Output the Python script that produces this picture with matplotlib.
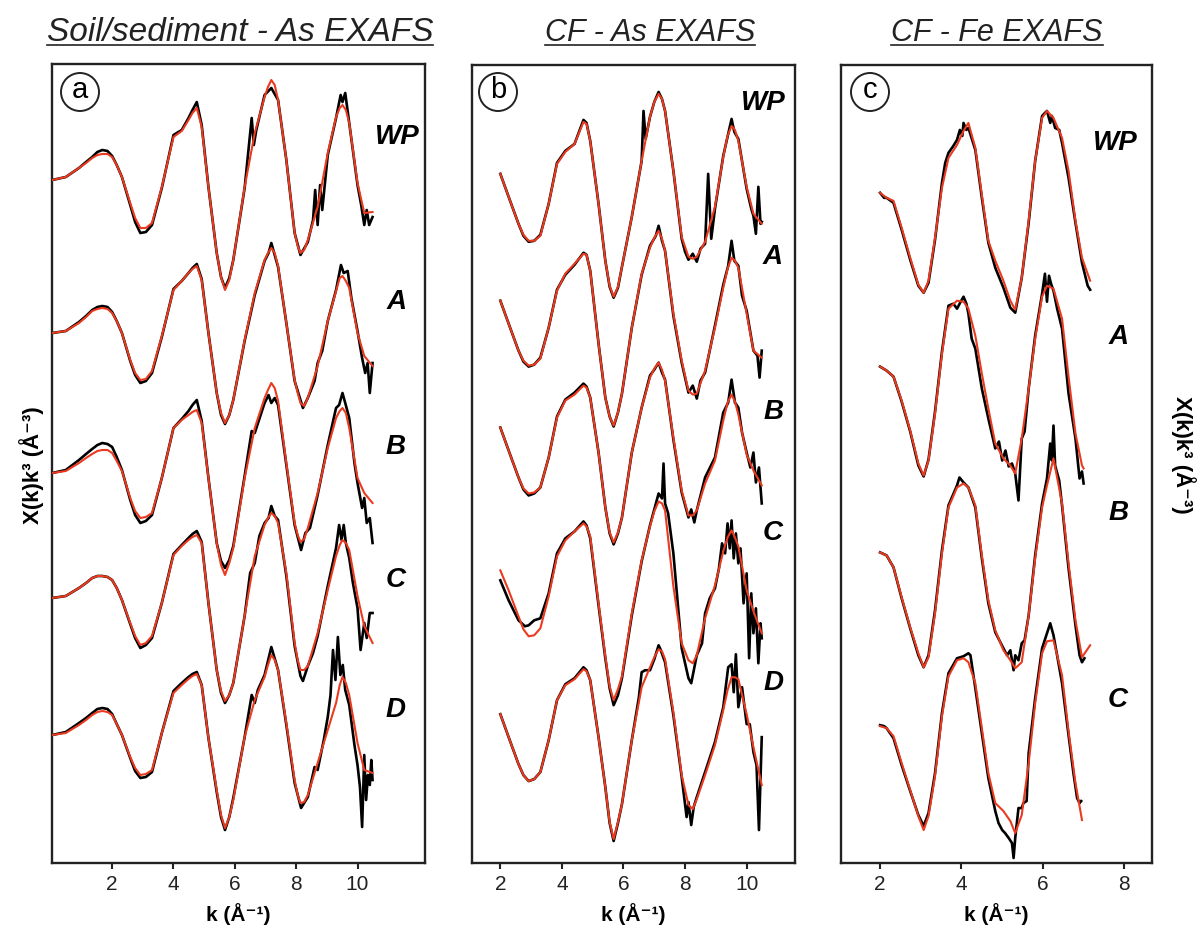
import matplotlib
matplotlib.use("Agg")
import matplotlib.pyplot as plt
from matplotlib.patches import Ellipse
from matplotlib.lines import Line2D

plt.rcParams['font.family'] = ['Liberation Sans', 'DejaVu Sans']

RED = '#ea3a1f'

# ---------------- Panel a : Soil/sediment - As EXAFS ----------------
K_A = [0.05, 0.49, 0.92, 1.15, 1.35, 1.52, 1.68, 1.85, 2.0, 2.15, 2.32, 2.59, 2.75, 2.92, 3.10, 3.30, 3.62,
       4.0, 4.27, 4.49, 4.62, 4.76, 4.92, 5.14, 5.41, 5.55, 5.68, 5.82, 5.95, 6.32, 6.65, 6.97, 7.08, 7.19,
       7.30, 7.41, 7.68, 7.95, 8.05, 8.14, 8.26, 8.38, 8.70, 9.03, 9.30, 9.42, 9.51, 9.62, 9.73, 10.0, 10.22,
       10.49]
K_A_LOW = [0.05, 0.49, 0.92, 1.15, 1.35, 1.52, 1.68, 1.85, 2.0, 2.15, 2.32, 2.59, 2.75, 2.92, 3.10, 3.30,
           3.62, 4.0, 4.27, 4.49, 4.62, 4.76, 4.92, 5.14, 5.41, 5.55, 5.68, 5.82, 5.95]

a_wp_fit = [0, 3, 12, 17, 22, 25, 26, 26, 23, 15, 3, -23, -38, -48, -48, -43, -7, 43, 49, 60, 67, 72, 53, -7,
            -73, -97, -110, -100, -80, -7, 47, 83, 93, 100, 95, 80, 20, -53, -66, -73, -70, -60, -27, 27, 63,
            72, 75, 70, 57, -3, -33, -32]
a_wp_k = K_A_LOW + [6.32, 6.55, 6.62, 6.70, 6.97, 7.19, 7.41, 7.68, 7.95, 8.14, 8.38, 8.55, 8.62, 8.70, 8.78,
                    8.85, 9.03, 9.30, 9.45, 9.51, 9.60, 9.73, 10.0, 10.12, 10.22, 10.30, 10.38, 10.49]
a_wp_dat = [0, 3, 12, 18, 23, 28, 30, 29, 24, 15, 3, -25, -42, -53, -52, -45, -8, 45, 50, 62, 70, 78, 55, -7,
            -73, -97, -108, -98, -80,
            -8, 62, 35, 50, 85, 92, 80, 20, -53, -75, -62, -40, -10, -45, -5, -30, 25, 62, 85, 78, 87, 57, -5,
            -25, -45, -30, -45, -37]

a_a_fit = [0, 2, 10, 16, 22, 24, 25, 24, 20, 12, 0, -27, -40, -47, -46, -38, -3, 43, 52, 60, 64, 67, 53, 0, -60,
           -80, -90, -82, -67, -7, 40, 73, 80, 85, 80, 67, 10, -47, -60, -70, -73, -65, -33, 12, 42, 55, 57, 52,
           45, 0, -23, -33]
a_a_k = K_A_LOW + [6.32, 6.65, 6.97, 7.10, 7.19, 7.41, 7.68, 7.95, 8.22, 8.38, 8.60, 8.70, 8.85, 9.03, 9.30,
                   9.46, 9.55, 9.68, 9.80, 10.0, 10.15, 10.25, 10.33, 10.40, 10.49]
a_a_dat = [0, 2, 11, 17, 23, 26, 27, 26, 21, 12, 0, -28, -42, -50, -48, -40, -4, 44, 52, 60, 65, 69, 54, 0, -60,
           -82, -91, -82, -67,
           -8, 38, 72, 80, 90, 66, 10, -48, -75, -65, -48, -30, -18, 12, 43, 68, 60, 62, 35, 2, -25, -40, -30,
           -60, -30]

a_b_fit = [0, 2, 10, 15, 19, 22, 23, 23, 20, 12, 2, -25, -38, -45, -44, -40, -5, 45, 53, 58, 61, 63, 50, -5, -70,
           -92, -102, -90, -75, -5, 45, 75, 83, 90, 85, 72, 10, -50, -62, -69, -66, -55, -20, 25, 55, 62, 65, 60,
           45, -5, -20, -30]
a_b_k = K_A_LOW + [6.32, 6.55, 6.65, 6.97, 7.10, 7.19, 7.30, 7.41, 7.68, 7.95, 8.16, 8.30, 8.45, 8.70, 9.03,
                   9.30, 9.40, 9.51, 9.60, 9.73, 9.90, 10.0, 10.15, 10.22, 10.30, 10.40, 10.49]
a_b_dat = [0, 3, 13, 19, 24, 28, 30, 29, 26, 16, 3, -27, -42, -50, -48, -42, -5, 45, 54, 62, 68, 73, 52, -5, -70,
           -88, -95, -87, -73,
           -3, 42, 40, 70, 78, 70, 75, 68, 8, -52, -77, -60, -55, -22, 28, 65, 68, 80, 70, 55, 10, -10, -35,
           -25, -50, -45, -70]

a_c_fit = [0, 2, 10, 15, 20, 22, 22, 21, 18, 10, -2, -25, -38, -47, -45, -38, -5, 43, 52, 58, 61, 63, 55, -5,
           -72, -93, -103, -97, -85, -18, 42, 73, 80, 85, 82, 75, 25, -45, -62, -72, -72, -68, -35, 8, 42, 53,
           58, 55, 48, 2, -28, -45]
a_c_k = K_A_LOW + [6.32, 6.50, 6.65, 6.80, 6.97, 7.10, 7.19, 7.30, 7.41, 7.68, 7.95, 8.14, 8.22, 8.38, 8.55,
                   8.70, 9.03, 9.30, 9.40, 9.48, 9.55, 9.62, 9.73, 9.85, 10.0, 10.10, 10.22, 10.30, 10.40, 10.49]
a_c_dat = [0, 2, 10, 15, 20, 22, 22, 21, 18, 10, -2, -26, -40, -50, -47, -40, -5, 44, 53, 60, 64, 67, 56, -5,
           -72, -95, -105, -97, -85,
           -18, 25, 35, 62, 75, 80, 92, 82, 78, 22, -48, -78, -83, -68, -55, -38, 12, 50, 73, 58, 73, 55, 40,
           15, -10, -52, -25, -40, -15, -15]

a_d_fit = [0, 2, 10, 15, 20, 23, 24, 23, 20, 11, 0, -22, -33, -40, -39, -35, 2, 42, 50, 56, 59, 61, 50, -3, -55,
           -80, -93, -82, -65, -2, 35, 58, 70, 80, 75, 65, 12, -45, -60, -68, -67, -60, -28, 5, 32, 50, 58, 52,
           40, -8, -35, -38]
a_d_k = K_A_LOW + [6.32, 6.55, 6.65, 6.75, 6.97, 7.19, 7.41, 7.68, 7.95, 8.16, 8.38, 8.60, 8.70, 8.90, 9.03,
                   9.12, 9.20, 9.28, 9.36, 9.44, 9.52, 9.60, 9.73, 9.90, 10.0, 10.08, 10.15, 10.22, 10.28, 10.34,
                   10.40, 10.45, 10.49]
a_d_dat = [0, 3, 12, 17, 22, 26, 27, 26, 21, 11, 0, -23, -36, -43, -42, -37, 2, 44, 52, 58, 61, 63, 50, -3, -57,
           -82, -95, -82, -63,
           -2, 40, 32, 45, 60, 88, 65, 10, -48, -73, -62, -32, -35, -5, 18, 40, 85, 55, 98, 60, 70, 45, 30, -10,
           -30, -52, -92, -20, -65, -40, -50, -25, -45]

a_offsets = [683, 530, 390, 265, 128]
a_names = ['WP', 'A', 'B', 'C', 'D']

# ---------------- Panel b : CF - As EXAFS ----------------
K_B = [2.0, 2.27, 2.59, 2.75, 2.92, 3.10, 3.30, 3.57, 3.84, 4.11, 4.41, 4.70, 4.80, 4.92, 5.19, 5.41, 5.55,
       5.68, 5.82, 5.95, 6.27, 6.59, 6.86, 7.0, 7.14, 7.25, 7.35, 7.62, 7.89, 8.11, 8.25, 8.38, 8.65, 8.97,
       9.24, 9.38, 9.51, 9.62, 9.73, 10.0, 10.22, 10.49]
K_B_LOW = [2.0, 2.27, 2.59, 2.75, 2.92, 3.10, 3.30, 3.57, 3.84, 4.11, 4.41, 4.70, 4.80, 4.92, 5.19, 5.41,
           5.55, 5.68, 5.82, 5.95]

b_wp_fit = [20, -3, -30, -41, -47, -47, -42, -10, 30, 42, 50, 72, 70, 53, -10, -67, -92, -103, -93, -73, -23,
            33, 77, 92, 100, 95, 83, 23, -43, -63, -65, -63, -48, -13, 37, 58, 68, 64, 53, 7, -20, -30]
b_wp_k = K_B_LOW + [6.27, 6.59, 6.65, 6.72, 6.86, 7.0, 7.14, 7.25, 7.35, 7.62, 7.89, 8.0, 8.11, 8.25, 8.38,
                    8.50, 8.65, 8.75, 8.85, 8.97, 9.24, 9.51, 9.60, 9.73, 10.0, 10.15, 10.22, 10.30, 10.38,
                    10.45, 10.49]
b_wp_dat = [20, -3, -30, -42, -48, -47, -41, -10, 31, 43, 50, 74, 71, 53, -10, -67, -93, -104, -94, -73,
            -23, 33, 83, 55, 77, 92, 102, 95, 83, 23, -45, -58, -66, -60, -68, -55, -50, 20, -45, -15, 38, 75,
            62, 55, 5, -15, -22, -40, 7, -30, -28]

b_a_fit = [20, -3, -30, -40, -45, -44, -38, -7, 30, 47, 57, 67, 66, 50, -23, -77, -96, -105, -92, -73, -7, 47,
           73, 83, 90, 82, 70, 7, -40, -70, -74, -73, -50, -7, 33, 52, 63, 60, 53, 7, -30, -37]
b_a_k = K_B_LOW + [6.27, 6.59, 6.86, 7.05, 7.14, 7.25, 7.35, 7.62, 7.89, 8.11, 8.25, 8.38, 8.50, 8.65, 8.97,
                   9.24, 9.40, 9.51, 9.60, 9.73, 9.85, 10.0, 10.22, 10.35, 10.42, 10.49]
b_a_dat = [20, -3, -30, -41, -46, -44, -37, -7, 31, 46, 56, 68, 66, 50, -23, -77, -96, -106, -92, -73,
           -7, 46, 75, 85, 95, 80, 70, 5, -42, -72, -65, -78, -60, -52, -5, 36, 55, 80, 60, 55, 25, 10, -30,
           -35, -57, -30]

b_b_fit = [20, -3, -30, -41, -46, -45, -40, -10, 30, 47, 53, 62, 60, 50, -5, -60, -85, -95, -85, -70, -5, 40,
           70, 79, 85, 78, 67, 10, -43, -68, -68, -63, -36, -13, 27, 45, 53, 46, 33, -7, -23, -38]
b_b_k = K_B_LOW + [6.27, 6.59, 6.86, 7.0, 7.14, 7.25, 7.35, 7.62, 7.89, 8.11, 8.20, 8.30, 8.38, 8.65, 8.97,
                   9.24, 9.40, 9.51, 9.62, 9.73, 9.85, 10.0, 10.12, 10.22, 10.30, 10.40, 10.49]
b_b_dat = [20, -3, -30, -42, -48, -46, -40, -10, 31, 48, 55, 64, 61, 50, -5, -60, -86, -97, -86, -70,
           -5, 40, 72, 78, 85, 75, 68, 8, -45, -70, -62, -75, -63, -30, -10, 35, 45, 68, 45, 40, 15, -5, -20,
           -5, -35, -20, -56]

b_c_fit = [33, 13, -13, -26, -33, -32, -25, 7, 47, 63, 72, 80, 77, 67, 0, -53, -83, -97, -86, -73, -10, 43, 77,
           92, 102, 100, 93, 17, -40, -57, -60, -52, -15, 18, 52, 66, 73, 66, 57, 13, -8, -30]
b_c_k = [2.0, 2.27, 2.59, 2.80, 2.92, 3.10, 3.30, 3.57, 3.84, 4.11, 4.41, 4.70, 4.80, 4.92, 5.19, 5.41, 5.55,
         5.68, 5.82, 5.95, 6.27, 6.59, 6.86, 7.14, 7.25, 7.30, 7.35, 7.45, 7.62, 7.89, 8.11, 8.20, 8.38, 8.55,
         8.65, 8.80, 8.97, 9.10, 9.20, 9.30, 9.38, 9.45, 9.51, 9.58, 9.65, 9.73, 9.80, 9.90, 10.0, 10.08,
         10.15, 10.22, 10.30, 10.38, 10.45, 10.49]
b_c_dat = [23, 3, -17, -23, -22, -17, -15, 10, 50, 65, 72, 82, 78, 65, -2, -55, -85, -102, -92, -75, -12, 42,
           78, 110, 105, 140, 100, 90, 50, -45, -75, -80, -52, -40, -10, 5, 15, 35, 60, 50, 80, 55, 83, 45, 70,
           40, 55, 0, 30, -55, 10, -30, -5, -60, -20, -35]

b_d_fit = [23, 0, -27, -38, -44, -42, -35, -3, 37, 52, 58, 68, 66, 57, 0, -50, -85, -102, -85, -67, -3, 50, 70,
           80, 88, 86, 78, 25, -38, -68, -72, -62, -38, -8, 27, 47, 60, 60, 58, 23, -10, -48]
b_d_k = K_B_LOW + [6.27, 6.50, 6.59, 6.70, 6.86, 7.0, 7.14, 7.20, 7.35, 7.62, 7.89, 8.05, 8.11, 8.20, 8.28,
                   8.38, 8.65, 8.97, 9.24, 9.40, 9.51, 9.58, 9.65, 9.73, 9.85, 10.0, 10.10, 10.22, 10.32, 10.40,
                   10.49]
b_d_dat = [23, 0, -27, -38, -44, -42, -35, -3, 37, 53, 59, 70, 67, 57, 0, -50, -86, -104, -86, -67,
           -3, 40, 65, 67, 67, 78, 92, 88, 75, 22, -40, -80, -65, -88, -70, -60, -35, -5, 30, 70, 73, 45, 83,
           30, 50, 13, 13, -15, -28, -93, 0]

b_offsets = [670, 543, 416, 260, 126]
b_names = ['WP', 'A', 'B', 'C', 'D']

# ---------------- Panel c : CF - Fe EXAFS ----------------
K_C = [2.0, 2.16, 2.33, 2.53, 2.74, 2.94, 3.07, 3.19, 3.35, 3.52, 3.68, 3.89, 4.05, 4.17, 4.34, 4.5, 4.66, 4.83,
       5.03, 5.20, 5.32, 5.48, 5.65, 5.81, 5.98, 6.10, 6.26, 6.47, 6.63, 6.80, 6.96]

c_wp_fit_k = K_C + [7.16]
c_wp_fit = [35, 30, 27, 0, -30, -57, -65, -53, -10, 40, 70, 83, 97, 105, 80, 33, -13, -33, -53, -73, -82, -50, 7,
            67, 110, 117, 110, 90, 57, 7, -30, -53]
c_wp_k = [2.0, 2.10, 2.16, 2.33, 2.53, 2.74, 2.94, 3.07, 3.19, 3.35, 3.52, 3.60, 3.68, 3.80, 3.89, 3.96, 4.02,
          4.05, 4.12, 4.17, 4.34, 4.5, 4.66, 4.83, 5.03, 5.20, 5.32, 5.48, 5.65, 5.81, 5.98, 6.05, 6.10, 6.18,
          6.22, 6.30, 6.40, 6.47, 6.63, 6.80, 6.96, 7.10, 7.16]
c_wp_dat = [35, 30, 30, 25, -2, -32, -58, -65, -55, -12, 45, 65, 75, 82, 88, 98, 92, 105, 98, 100, 78, 30, -15,
            -40, -60, -80, -85, -50, 5, 67, 112, 115, 117, 105, 112, 100, 98, 85, 50, 5, -35, -58, -62]

c_a_fit_k = K_C + [7.0]
c_a_fit = [27, 23, 17, -7, -37, -70, -82, -67, -20, 40, 85, 93, 92, 85, 58, 20, -15, -50, -65, -72, -80, -45, 5,
           55, 97, 108, 105, 75, 17, -40, -72, -75]
c_a_k = [2.0, 2.16, 2.33, 2.53, 2.74, 2.94, 3.07, 3.19, 3.35, 3.52, 3.68, 3.80, 3.89, 3.98, 4.05, 4.12, 4.17,
         4.25, 4.34, 4.50, 4.66, 4.83, 4.92, 5.00, 5.08, 5.16, 5.24, 5.32, 5.40, 5.48, 5.55, 5.65, 5.81, 5.98,
         6.05, 6.10, 6.15, 6.20, 6.26, 6.35, 6.47, 6.63, 6.80, 6.90, 6.96, 7.0]
c_a_dat = [27, 23, 17, -8, -38, -72, -83, -66, -18, 42, 88, 90, 85, 92, 97, 90, 80, 55, 45, 5, -25, -55, -48,
           -67, -57, -73, -70, -80, -107, -45, -38, 5, 58, 100, 120, 92, 118, 110, 103, 85, 65, 0, -45, -85, -78,
           -90]

c_b_fit_k = K_C + [7.16]
c_b_fit = [18, 15, 3, -27, -57, -83, -97, -87, -43, 17, 63, 83, 87, 83, 65, 15, -30, -60, -80, -90, -98, -92,
           -45, 12, 63, 85, 112, 67, 7, -50, -87, -75]
c_b_k = [2.0, 2.16, 2.33, 2.53, 2.74, 2.94, 3.07, 3.19, 3.35, 3.52, 3.68, 3.89, 3.95, 4.05, 4.17, 4.34, 4.5,
         4.66, 4.83, 5.03, 5.12, 5.20, 5.28, 5.32, 5.40, 5.48, 5.55, 5.65, 5.81, 5.98, 6.10, 6.18, 6.22, 6.26,
         6.30, 6.40, 6.47, 6.63, 6.80, 6.90, 6.96, 7.02]
c_b_dat = [18, 15, 3, -28, -58, -85, -97, -85, -40, 20, 65, 85, 93, 88, 83, 63, 12, -33, -62, -78, -85, -80,
           -100, -85, -90, -73, -70, -45, 15, 67, 92, 127, 110, 145, 105, 90, 65, 2, -55, -85, -92, -88]

c_c_fit_k = K_C
c_c_fit = [27, 25, 17, -10, -37, -63, -77, -63, -23, 37, 77, 93, 95, 91, 70, 25, -20, -50, -58, -68, -80, -62,
           -10, 50, 100, 112, 113, 78, 22, -30, -67]
c_c_k = [2.0, 2.10, 2.16, 2.33, 2.53, 2.74, 2.94, 3.07, 3.19, 3.35, 3.52, 3.68, 3.89, 4.05, 4.17, 4.22, 4.34,
         4.5, 4.66, 4.83, 4.91, 5.00, 5.07, 5.16, 5.24, 5.28, 5.32, 5.40, 5.48, 5.52, 5.60, 5.65, 5.81, 5.98,
         6.10, 6.18, 6.26, 6.34, 6.47, 6.63, 6.75, 6.84, 6.90, 6.94]
c_c_dat = [28, 27, 25, 15, -12, -38, -62, -73, -60, -20, 40, 80, 95, 97, 100, 98, 65, 20, -25, -58, -70, -77,
           -80, -85, -90, -105, -85, -55, -55, -50, -48, 0, 55, 105, 120, 130, 118, 100, 70, 18, -20, -45, -50,
           -48]

c_offsets = [636, 470, 293, 110]
c_names = ['WP', 'A', 'B', 'C']

titles = ['Soil/sediment - As EXAFS', 'CF - As EXAFS', 'CF - Fe EXAFS']
panel_letters = ['a', 'b', 'c']
x_ticks = [[2, 4, 6, 8, 10], [2, 4, 6, 8, 10], [2, 4, 6, 8]]
x_limits = [(0.04, 12.2), (1.08, 11.57), (1.04, 8.68)]
xlabel = 'k (Å⁻¹)'
ylabel = 'X(k)k³ (Å⁻³)'

# ---------------- build structures ----------------
panel_a = [(a_wp_k, a_wp_dat, K_A, a_wp_fit), (a_a_k, a_a_dat, K_A, a_a_fit), (a_b_k, a_b_dat, K_A, a_b_fit),
           (a_c_k, a_c_dat, K_A, a_c_fit), (a_d_k, a_d_dat, K_A, a_d_fit)]
panel_b = [(b_wp_k, b_wp_dat, K_B, b_wp_fit), (b_a_k, b_a_dat, K_B, b_a_fit), (b_b_k, b_b_dat, K_B, b_b_fit),
           (b_c_k, b_c_dat, K_B, b_c_fit), (b_d_k, b_d_dat, K_B, b_d_fit)]
panel_c = [(c_wp_k, c_wp_dat, c_wp_fit_k, c_wp_fit), (c_a_k, c_a_dat, c_a_fit_k, c_a_fit),
           (c_b_k, c_b_dat, c_b_fit_k, c_b_fit), (c_c_k, c_c_dat, c_c_fit_k, c_c_fit)]
panels = [panel_a, panel_b, panel_c]
offsets = [a_offsets, b_offsets, c_offsets]
names = [a_names, b_names, c_names]

W, H = 1200, 933
fig = plt.figure(figsize=(W / 100, H / 100), dpi=100)

rects_px = [(52, 64, 425, 863), (472, 65, 795, 863), (841, 65, 1152, 863)]
label_pos = [
    [(0.925, 0.909), (0.925, 0.702), (0.92, 0.521), (0.92, 0.354), (0.92, 0.191)],
    [(0.901, 0.952), (0.929, 0.759), (0.932, 0.565), (0.932, 0.414), (0.932, 0.226)],
    [(0.881, 0.902), (0.891, 0.659), (0.891, 0.439), (0.891, 0.204)],
]
title_x_px = [240, 650, 997]
title_sizes = [24, 22, 22]

for i, (l, t, r, b) in enumerate(rects_px):
    ax = fig.add_axes([l / W, 1 - b / H, (r - l) / W, (b - t) / H])
    for (kd, yd, kf, yf), off in zip(panels[i], offsets[i]):
        ax.plot(kd, [off + v for v in yd], color='black', lw=1.9, solid_joinstyle='round', zorder=2)
        ax.plot(kf, [off + v for v in yf], color=RED, lw=1.5, solid_joinstyle='round', zorder=3)
    ax.set_xlim(*x_limits[i])
    ax.set_ylim(0, 799)
    ax.set_yticks([])
    ax.set_xticks(x_ticks[i])
    ax.tick_params(axis='x', direction='out', length=4, width=1.5, labelsize=15, pad=5, colors='#222222')
    for sp in ax.spines.values():
        sp.set_linewidth(1.7)
        sp.set_color('#222222')
    ax.set_xlabel(xlabel, fontsize=15, fontweight='bold', labelpad=6)
    for nm, (px, py) in zip(names[i], label_pos[i]):
        ax.text(px, py, nm, transform=ax.transAxes, fontsize=20, fontweight='bold', fontstyle='italic',
                ha='center', va='center')
    cx = {0: 80, 1: 498, 2: 870}[i]
    cy = 92
    fx = (cx - l) / (r - l)
    fy = (b - cy) / (b - t)
    ax.add_patch(Ellipse((fx, fy), 38 / (r - l), 38 / (b - t), transform=ax.transAxes, fill=False,
                         lw=1.4, ec='#222222', zorder=5))
    ax.text(fx, fy + 0.002, panel_letters[i], transform=ax.transAxes, fontsize=21, ha='center', va='center',
            zorder=6)

title_objs = []
for i, ttl in enumerate(titles):
    tt = fig.text(title_x_px[i] / W, 1 - 41 / H, ttl, fontsize=title_sizes[i], fontstyle='italic', ha='center',
                  va='baseline', color='#222222')
    title_objs.append(tt)

fig.text(32 / W, 1 - 465 / H, ylabel, rotation=90, fontsize=16, fontweight='bold', ha='center', va='center')
fig.text(1183 / W, 1 - 455 / H, ylabel, rotation=270, fontsize=16, fontweight='bold', ha='center', va='center')

fig.canvas.draw()
renderer = fig.canvas.get_renderer()
for tt in title_objs:
    bb = tt.get_window_extent(renderer)
    y_ul = 1 - 44.5 / H
    fig.add_artist(Line2D([bb.x0 / W, bb.x1 / W], [y_ul, y_ul], transform=fig.transFigure,
                          color='#222222', lw=1.2))

fig.savefig('out.png', dpi=100, facecolor='white')
